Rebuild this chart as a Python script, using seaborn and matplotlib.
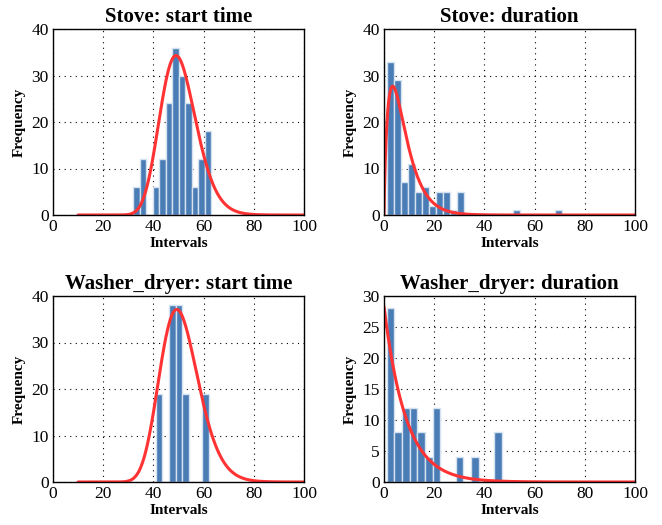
import numpy as np
import pandas as pd
import matplotlib
matplotlib.use("Agg")
import matplotlib.pyplot as plt
import seaborn as sns

# histogram counts (bins span lo..hi evenly)
stove_start_counts = [6, 12, 0, 6, 12, 24, 36, 30, 24, 6, 12, 18]
stove_start_range = (32, 63)
stove_dur_counts = [33, 29, 7, 11, 5, 6, 2, 5, 5, 1, 5, 0, 0, 0, 0, 0, 0, 0, 1, 0, 0, 0, 0, 0, 1]
stove_dur_range = (1, 71)
washer_start_counts = [19, 0, 38, 38, 19, 0, 0, 19]
washer_start_range = (41, 62)
washer_dur_counts = [28, 8, 12, 12, 8, 4, 12, 0, 0, 4, 0, 4, 0, 0, 8]
washer_dur_range = (1, 47)

# fitted curves (peak height, mode, shape)
stove_start_fit = (34.3, 49.0, 0.145)    # lognormal
washer_start_fit = (37.1, 49.3, 0.155)   # lognormal
stove_dur_fit = (27.7, 1.8, 4.31)        # gamma: peak, k, theta
washer_dur_fit = (28.3, 8.7)             # exponential: y0, scale

titles = ["Stove: start time", "Stove: duration",
          "Washer_dryer: start time", "Washer_dryer: duration"]

sns.set_style("white")
plt.rcParams["font.family"] = ["Liberation Serif", "DejaVu Serif"]
plt.rcParams["text.color"] = "black"
plt.rcParams["axes.labelcolor"] = "black"

bar_col = "#4a7db6"
edge_col = "#d5e2f0"
red = "#ff3333"


def lognorm_curve(x, peak, mode, s):
    mu = np.log(mode) + s ** 2
    f = np.exp(-(np.log(x) - mu) ** 2 / (2 * s ** 2)) / x
    fm = np.exp(-(np.log(mode) - mu) ** 2 / (2 * s ** 2)) / mode
    return peak * f / fm


def gamma_curve(x, peak, k, theta):
    mode = (k - 1) * theta
    return peak * (x / mode) ** (k - 1) * np.exp(-(x - mode) / theta)


fig = plt.figure(figsize=(6.62, 5.25), dpi=100)
w, h = 251 / 662, 186 / 525
axes = [fig.add_axes([53 / 662, 310 / 525, w, h]),
        fig.add_axes([384 / 662, 310 / 525, w, h]),
        fig.add_axes([53 / 662, 43 / 525, w, h]),
        fig.add_axes([384 / 662, 43 / 525, w, h])]

hists = [(stove_start_counts, stove_start_range),
         (stove_dur_counts, stove_dur_range),
         (washer_start_counts, washer_start_range),
         (washer_dur_counts, washer_dur_range)]

x_start = np.linspace(10, 100, 400)
x_dur = np.linspace(0.001, 100, 600)
curves = [(x_start, lognorm_curve(x_start, *stove_start_fit)),
          (x_dur, gamma_curve(x_dur, *stove_dur_fit)),
          (x_start, lognorm_curve(x_start, *washer_start_fit)),
          (x_dur, washer_dur_fit[0] * np.exp(-x_dur / washer_dur_fit[1]))]

for i, ax in enumerate(axes):
    counts, (lo, hi) = hists[i]
    edges = np.linspace(lo, hi, len(counts) + 1)
    df = pd.DataFrame({"center": (edges[:-1] + edges[1:]) / 2, "count": counts})
    sns.histplot(data=df, x="center", weights="count", bins=list(edges), ax=ax,
                 color=bar_col, edgecolor=edge_col, linewidth=1, alpha=1)
    xc, yc = curves[i]
    sns.lineplot(x=xc, y=yc, ax=ax, color=red, linewidth=2.2)

    ax.set_xlim(0, 100)
    ax.set_xticks(range(0, 101, 20))
    if i == 3:
        ax.set_ylim(0, 30)
        ax.set_yticks(range(0, 31, 5))
    else:
        ax.set_ylim(0, 40)
        ax.set_yticks(range(0, 41, 10))
    ax.grid(True, color="black", linestyle=(0, (1, 4)), linewidth=0.8)
    ax.set_axisbelow(True)
    for sp in ax.spines.values():
        sp.set_color("black")
        sp.set_linewidth(1)
    ax.tick_params(direction="in", length=3, labelsize=12.5, pad=3,
                   colors="black", labelcolor="black")
    ax.set_title(titles[i], fontsize=15, fontweight="bold", pad=5, color="black")
    ax.set_xlabel("Intervals", fontsize=11, fontweight="bold", labelpad=1)
    ax.set_ylabel("Frequency", fontsize=11, fontweight="bold", labelpad=4)

fig.savefig("out.png", dpi=100)
